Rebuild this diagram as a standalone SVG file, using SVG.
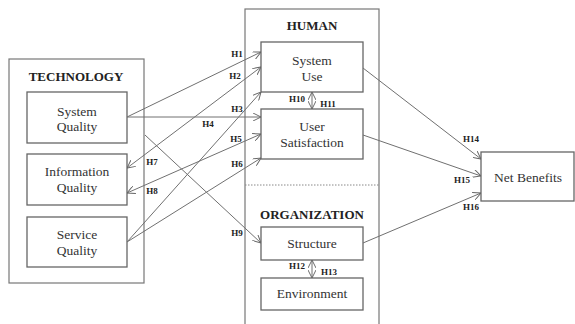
<svg xmlns="http://www.w3.org/2000/svg" width="575" height="324" viewBox="0 0 575 324">
<defs>
<marker id="ah" viewBox="0 0 10 10" refX="10" refY="5" markerWidth="8" markerHeight="8" markerUnits="userSpaceOnUse" orient="auto-start-reverse">
<path d="M0,0 L10,5 L0,10" fill="none" stroke="#666" stroke-width="1.2"/>
</marker>
</defs>
<style>
.box{fill:#fff;stroke:#666;stroke-width:1.3}
.grp{fill:none;stroke:#777;stroke-width:1.2}
text{font-family:'Liberation Serif','Times New Roman','DejaVu Serif',serif}
.t{font-size:13.5px;fill:#333;text-anchor:middle}
.h{font-size:13px;font-weight:bold;fill:#222;text-anchor:middle}
.l{font-size:9px;font-weight:bold;fill:#222;text-anchor:middle}
.c{fill:none;stroke:#707070;stroke-width:1;marker-end:url(#ah)}
.d{marker-start:url(#ah)}
</style>
<rect width="575" height="324" fill="#fff"/>
<g id="technology">
<rect class="grp" x="9" y="59" width="135" height="224"/>
<text class="h" x="76" y="81">TECHNOLOGY</text>
</g>
<g id="human">
<rect class="grp" x="245" y="9" width="134" height="330"/>
<text class="h" x="312" y="30">HUMAN</text>
<line x1="245" y1="185" x2="379" y2="185" stroke="#888" stroke-width="1" stroke-dasharray="1.5,1.5"/>
<text class="h" x="312" y="219">ORGANIZATION</text>
</g>
<g id="system-quality">
<rect class="box" x="27" y="92" width="100" height="51"/>
<text class="t" x="77" y="116">System</text>
<text class="t" x="77" y="131">Quality</text>
</g>
<g id="information-quality">
<rect class="box" x="27" y="154" width="100" height="51"/>
<text class="t" x="77" y="176">Information</text>
<text class="t" x="77" y="192">Quality</text>
</g>
<g id="service-quality">
<rect class="box" x="27" y="217" width="100" height="50"/>
<text class="t" x="77" y="239">Service</text>
<text class="t" x="77" y="255">Quality</text>
</g>
<g id="system-use">
<rect class="box" x="261" y="42" width="102" height="50"/>
<text class="t" x="312" y="65">System</text>
<text class="t" x="312" y="81">Use</text>
</g>
<g id="user-satisfaction">
<rect class="box" x="261" y="109" width="102" height="50"/>
<text class="t" x="312" y="131">User</text>
<text class="t" x="312" y="147">Satisfaction</text>
</g>
<g id="structure">
<rect class="box" x="261" y="227" width="102" height="33"/>
<text class="t" x="312" y="248">Structure</text>
</g>
<g id="environment">
<rect class="box" x="261" y="278" width="102" height="32"/>
<text class="t" x="312" y="298">Environment</text>
</g>
<g id="net-benefits">
<rect class="box" x="481" y="152" width="93" height="49"/>
<text class="t" x="528" y="182">Net Benefits</text>
</g>
<g id="connectors">
<line class="c" x1="127" y1="117" x2="261" y2="52"/>
<line class="c d" x1="127" y1="168" x2="261" y2="67"/>
<line class="c" x1="127" y1="242" x2="261" y2="92"/>
<line class="c" x1="127" y1="117" x2="261" y2="117"/>
<line class="c d" x1="127" y1="193" x2="261" y2="134"/>
<line class="c" x1="127" y1="242" x2="261" y2="158"/>
<line class="c" x1="145" y1="135" x2="261" y2="243"/>
<line class="c d" x1="312" y1="92" x2="312" y2="109"/>
<line class="c d" x1="312" y1="260" x2="312" y2="278"/>
<line class="c" x1="363" y1="68" x2="481" y2="159"/>
<line class="c" x1="363" y1="135" x2="481" y2="176"/>
<line class="c" x1="363" y1="243" x2="481" y2="193"/>
<text class="l" x="237" y="57">H1</text>
<text class="l" x="235" y="79">H2</text>
<text class="l" x="237" y="112">H3</text>
<text class="l" x="208" y="127">H4</text>
<text class="l" x="236" y="142">H5</text>
<text class="l" x="237" y="167">H6</text>
<text class="l" x="152" y="165">H7</text>
<text class="l" x="152" y="194">H8</text>
<text class="l" x="237" y="236">H9</text>
<text class="l" x="297" y="102">H10</text>
<text class="l" x="328" y="107">H11</text>
<text class="l" x="297" y="269">H12</text>
<text class="l" x="329" y="275">H13</text>
<text class="l" x="471" y="142">H14</text>
<text class="l" x="462" y="183">H15</text>
<text class="l" x="471" y="210">H16</text>
</g>
</svg>
